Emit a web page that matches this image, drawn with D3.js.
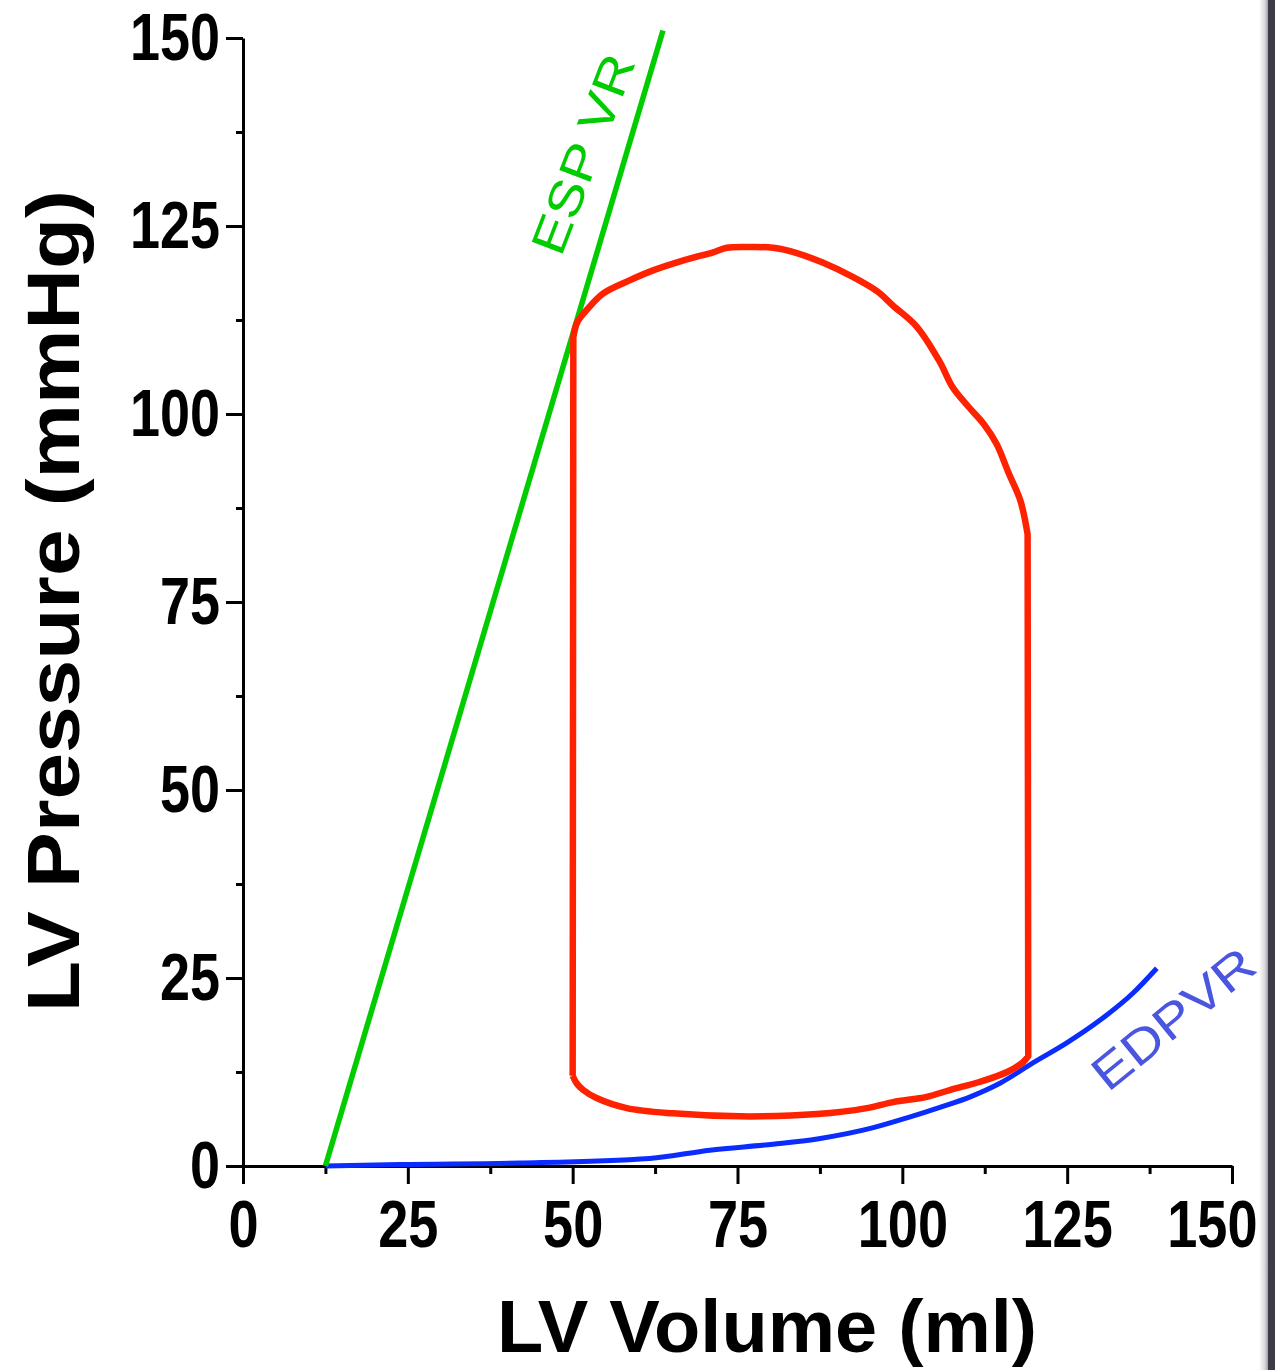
<!DOCTYPE html>
<html>
<head>
<meta charset="utf-8">
<script src="https://cdn.jsdelivr.net/npm/d3@7"></script>
<style>
html,body{margin:0;padding:0;background:#fff;}
svg{display:block;}
</style>
</head>
<body>
<svg id="chart" width="1275" height="1370"></svg>
<script>
// ---- data ----
const xTicks = [0, 25, 50, 75, 100, 125, 150];
const yTicks = [0, 25, 50, 75, 100, 125, 150];
const xMinor = [12.5, 37.5, 62.5, 87.5, 112.5, 137.5];
const yMinor = [12.5, 37.5, 62.5, 87.5, 112.5, 137.5];
const xTitle = "LV Volume (ml)";
const yTitle = "LV Pressure (mmHg)";

// ESPVR line (volume, pressure)
const espvrVol = [12.5, 63.7];
const espvrP = [0, 151];

// EDPVR curve
const edpvrVol = [12.5, 23.8, 42.0, 61.7, 70.8, 80.4, 87.1, 95.6, 100.7, 105.7, 110.3, 114.8, 119.8, 125.0, 130.0, 135.0, 138.6];
const edpvrP   = [0.0, 0.2, 0.4, 1.0, 2.1, 2.9, 3.6, 5.1, 6.4, 7.8, 9.2, 11.0, 13.7, 16.4, 19.4, 23.0, 26.3];

// PV loop phases (volume ml, pressure mmHg)
const fillingVol = [50.0, 50.6, 51.6, 53.7, 58.2, 65.2, 75.4, 87.1, 94.6, 98.6, 103.7, 107.2, 111.8, 115.9, 118.3, 119.1];
const fillingP   = [12.0, 11.0, 10.1, 9.0, 7.7, 7.0, 6.6, 6.9, 7.7, 8.5, 9.2, 10.1, 11.2, 12.5, 13.8, 14.6];
const contractionVol = [119.1, 119.0];
const contractionP   = [14.6, 84.0];
const ejectionVol = [119.0, 117.9, 116.1, 114.3, 112.4, 110.0, 107.6, 105.7, 102.2, 98.6, 96.2, 92.1, 88.0, 84.0, 80.4, 76.9, 73.4, 71.3, 66.7, 62.2, 58.2, 54.6, 52.2, 50.7, 50.1];
const ejectionP   = [84.0, 88.5, 92.2, 96.0, 98.6, 101.0, 103.6, 106.9, 111.6, 114.4, 116.3, 118.4, 120.1, 121.4, 122.1, 122.2, 122.1, 121.5, 120.4, 119.1, 117.6, 116.0, 113.9, 112.2, 110.2];
const relaxationVol = [50.1, 50.0];
const relaxationP   = [110.2, 12.0];

const espvrLabel = "ESP VR";
const edpvrLabel = "EDPVR";

// ---- drawing ----
const svg = d3.select("#chart");
const x = d3.scaleLinear().domain([0, 150]).range([243, 1232]);
const y = d3.scaleLinear().domain([0, 150]).range([1166, 38]);

const fontFam = "'Liberation Sans', Arial, sans-serif";

// right-edge window shading
const defs = svg.append("defs");
const grad = defs.append("linearGradient").attr("id", "edge").attr("x1", "0").attr("x2", "1").attr("y1", "0").attr("y2", "0");
grad.append("stop").attr("offset", "0").attr("stop-color", "#ffffff");
grad.append("stop").attr("offset", "0.6").attr("stop-color", "#dcdce0");
grad.append("stop").attr("offset", "1").attr("stop-color", "#a0a0a8");
svg.append("rect").attr("x", 1259).attr("y", 0).attr("width", 9).attr("height", 1370).attr("fill", "url(#edge)");
svg.append("rect").attr("x", 1268).attr("y", 0).attr("width", 7).attr("height", 1370).attr("fill", "#3c3c46");

// minor ticks
svg.append("g").attr("transform", `translate(0,${y(0)})`)
  .call(d3.axisBottom(x).tickValues(xMinor).tickSize(8).tickFormat(""))
  .call(g => g.select(".domain").remove())
  .selectAll("line").attr("stroke", "#000").attr("stroke-width", 3);
svg.append("g").attr("transform", `translate(${x(0)},0)`)
  .call(d3.axisLeft(y).tickValues(yMinor).tickSize(7).tickFormat(""))
  .call(g => g.select(".domain").remove())
  .selectAll("line").attr("stroke", "#000").attr("stroke-width", 3);

// major axes
const gx = svg.append("g").attr("transform", `translate(0,${y(0)})`)
  .call(d3.axisBottom(x).tickValues(xTicks).tickSize(18).tickSizeOuter(0).tickPadding(16));
const gy = svg.append("g").attr("transform", `translate(${x(0)},0)`)
  .call(d3.axisLeft(y).tickValues(yTicks).tickSize(17).tickSizeOuter(0).tickPadding(6));

[gx, gy].forEach(g => {
  g.select(".domain").attr("stroke", "#000").attr("stroke-width", 3);
  g.selectAll(".tick line").attr("stroke", "#000").attr("stroke-width", 3);
  g.selectAll(".tick text")
    .attr("fill", "#000")
    .style("font-family", fontFam)
    .style("font-weight", "bold")
    .style("font-size", "66px");
});
// condensed digits
gy.selectAll(".tick text")
  .attr("textLength", d => String(d).length * 30)
  .attr("lengthAdjust", "spacingAndGlyphs");
const sx = 0.82;
gx.selectAll(".tick text").attr("transform", `scale(${sx},1)`);
// keep the last x label inside the page
gx.selectAll(".tick text").filter(d => d === 150)
  .attr("text-anchor", "end").attr("x", 25 / sx);

// axis titles
svg.append("text")
  .attr("x", 497).attr("y", 1352)
  .attr("textLength", 540).attr("lengthAdjust", "spacingAndGlyphs")
  .style("font-family", fontFam).style("font-weight", "bold").style("font-size", "74px")
  .attr("fill", "#000")
  .text(xTitle);
svg.append("text")
  .attr("transform", "translate(79,601) rotate(-90)")
  .attr("text-anchor", "middle")
  .attr("textLength", 822).attr("lengthAdjust", "spacingAndGlyphs")
  .style("font-family", fontFam).style("font-weight", "bold").style("font-size", "74px")
  .attr("fill", "#000")
  .text(yTitle);

// EDPVR
svg.append("path")
  .datum(edpvrVol.map((v, i) => [v, edpvrP[i]]))
  .attr("d", d3.line().x(d => x(d[0])).y(d => y(d[1])).curve(d3.curveMonotoneX))
  .attr("fill", "none").attr("stroke", "#0a2cff").attr("stroke-width", 5);

// ESPVR
svg.append("path")
  .datum(espvrVol.map((v, i) => [v, espvrP[i]]))
  .attr("d", d3.line().x(d => x(d[0])).y(d => y(d[1])))
  .attr("fill", "none").attr("stroke", "#00cc00").attr("stroke-width", 5.5);

// PV loop: smooth curves for filling/ejection, straight isovolumic segments
const smooth = d3.line().x(d => x(d[0])).y(d => y(d[1])).curve(d3.curveCatmullRom.alpha(0.5));
const straight = d3.line().x(d => x(d[0])).y(d => y(d[1]));
const zipP = (vs, ps) => vs.map((v, i) => [v, ps[i]]);
const segs = [
  smooth(zipP(fillingVol, fillingP)),
  straight(zipP(contractionVol, contractionP)),
  smooth(zipP(ejectionVol, ejectionP)),
  straight(zipP(relaxationVol, relaxationP))
];
const loopD = segs.map((s, i) => i === 0 ? s : s.replace(/^M/, "L")).join("");
svg.append("path")
  .attr("d", loopD)
  .attr("fill", "none").attr("stroke", "#ff2200").attr("stroke-width", 6.5)
  .attr("stroke-linejoin", "round");

// labels
svg.append("text")
  .attr("transform", "translate(561,258) rotate(-69)")
  .attr("textLength", 210).attr("lengthAdjust", "spacingAndGlyphs")
  .style("font-family", fontFam).style("font-size", "48px")
  .attr("fill", "#00cc00")
  .text(espvrLabel);
svg.append("text")
  .attr("transform", "translate(1108,1093) rotate(-39)")
  .attr("textLength", 195).attr("lengthAdjust", "spacingAndGlyphs")
  .style("font-family", fontFam).style("font-size", "48px")
  .attr("fill", "#4a55e0")
  .text(edpvrLabel);
</script>
</body>
</html>
